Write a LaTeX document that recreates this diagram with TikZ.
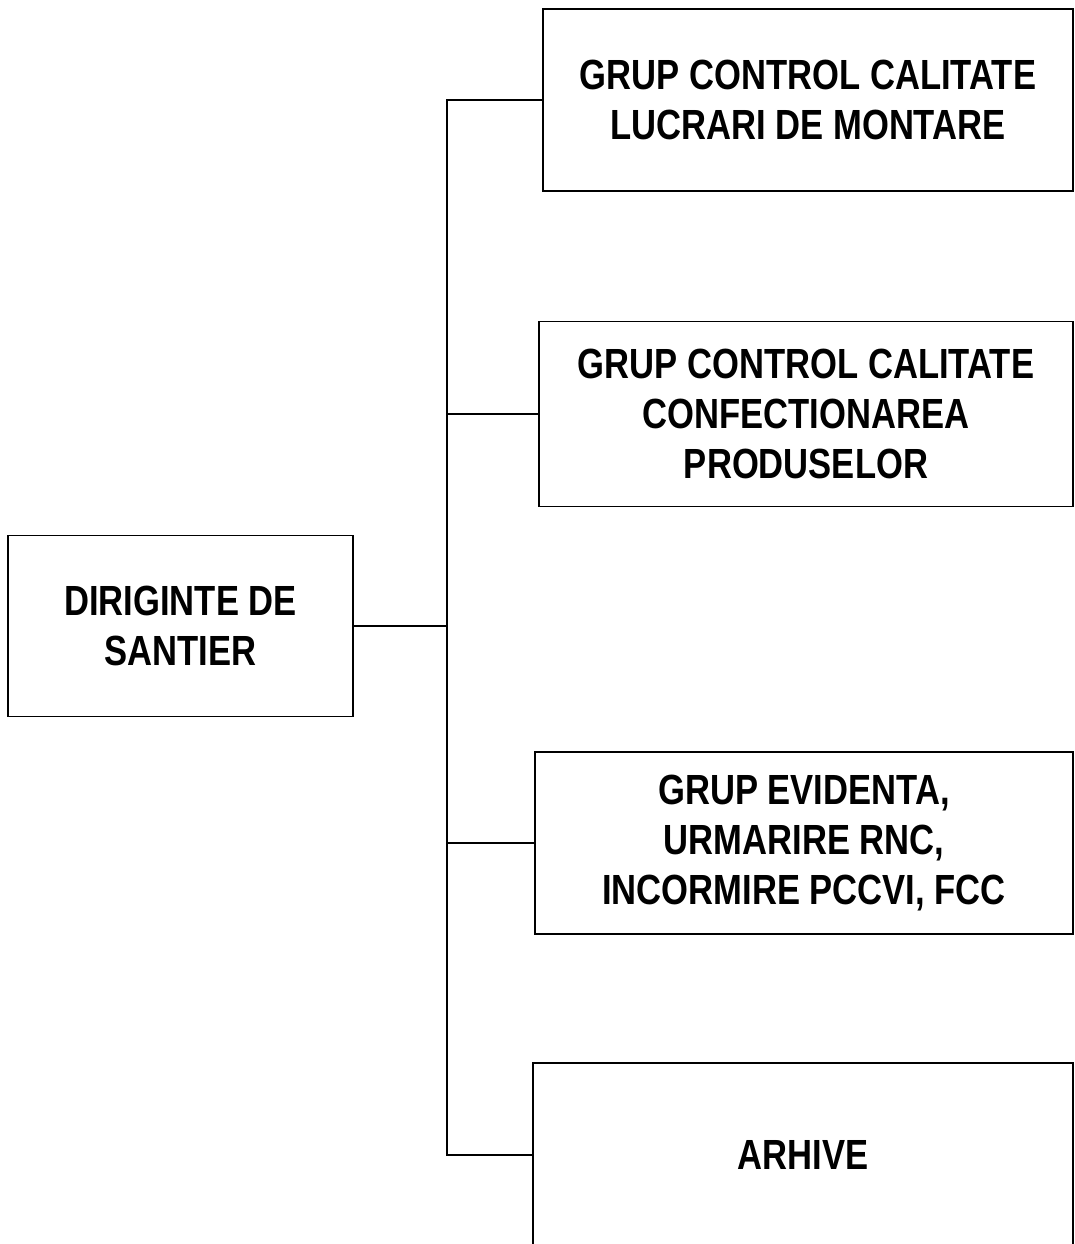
\documentclass[tikz,border=0pt]{standalone}
\usepackage{fontspec}
\newfontfamily\boxfont[FakeStretch=0.82]{Liberation Sans}
\usetikzlibrary{positioning}

\begin{document}
\begin{tikzpicture}[x=0.025cm, y=-0.025cm, line join=miter,
	box/.style={draw, line width=1.3pt, align=center, inner sep=0pt,
		font=\boxfont\bfseries\fontsize{30}{35.5}\selectfont},
	link/.style={line width=1.3pt}]
	
	% page frame (1075 x 1244 px)
	\useasboundingbox (0,0) rectangle (1075,1244);
	\clip (0,0) rectangle (1075,1244);
	
	%========================
	% Left: head of site
	%========================
	\node[box, minimum width=8.625cm, minimum height=4.525cm] (dir) at (180.5,626)
	{DIRIGINTE DE\\SANTIER};
	
	%========================
	% Right: groups
	%========================
	\node[box, minimum width=13.25cm, minimum height=4.55cm] (g1) at (808,100)
	{GRUP CONTROL CALITATE\\LUCRARI DE MONTARE};
	\node[box, minimum width=13.35cm, minimum height=4.625cm] (g2) at (806,414)
	{GRUP CONTROL CALITATE\\CONFECTIONAREA\\PRODUSELOR};
	\node[box, minimum width=13.45cm, minimum height=4.55cm] (g3) at (804,843)
	{GRUP EVIDENTA,\\URMARIRE RNC,\\INCORMIRE PCCVI, FCC};
	\node[box, minimum width=13.5cm, minimum height=4.6cm] (g4) at (803,1155)
	{ARHIVE};
	
	% connectors (bus)
	\coordinate (bus) at (dir.east -| 447,0);
	\draw[link] (dir.east) -- (bus);
	\draw[link] (g1.west) -| (bus) |- (g4.west);
	\draw[link] (bus |- g2.west) -- (g2.west);
	\draw[link] (bus |- g3.west) -- (g3.west);
	
\end{tikzpicture}
\end{document}
